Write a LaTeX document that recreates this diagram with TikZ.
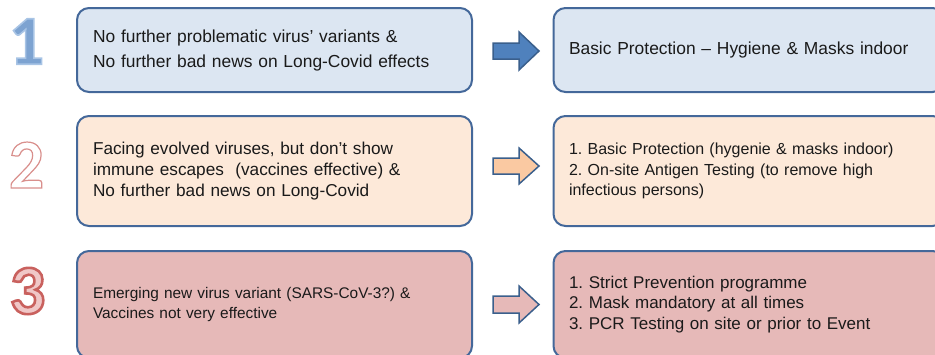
\documentclass[tikz,border=0pt]{standalone}
\usepackage{fontspec}
\setmainfont{Liberation Sans}
\newfontfamily\numfont{Carlito}
\usetikzlibrary{calc}
\frenchspacing
\definecolor{bord}{HTML}{44689A}
\definecolor{fillA}{HTML}{DCE6F2}
\definecolor{fillB}{HTML}{FDE9D9}
\definecolor{fillC}{HTML}{E6B9B8}
\definecolor{arrA}{HTML}{4F81BD}
\definecolor{arrB}{HTML}{FAC9A2}
\definecolor{arrC}{HTML}{E6B9B8}
\definecolor{arrBord}{HTML}{3A5F8C}
\definecolor{numAfill}{HTML}{7DA4D2}
\definecolor{txt}{HTML}{1A1A1A}
% outlined digit: #1 = PDF operators (fill, stroke colour, width), #2 = text
\newcommand\outlinedigit[2]{\special{pdf:literal direct 2 Tr #1}#2\special{pdf:literal direct 0 Tr}}
\begin{document}
\frenchspacing
\begin{tikzpicture}[x=1pt,y=-1pt,
  box/.style={draw=bord, line width=2pt, rounded corners=12pt, inner xsep=16pt, inner ysep=0pt,
    align=left, text=txt, font=\frenchspacing\fontsize{17.4}{20.5}\selectfont},
  leftbox/.style={box, text width=363pt},
  rightbox/.style={box, text width=360pt, inner xsep=15.5pt},
  blockarrow/.style={draw=arrBord, line width=1.5pt, line join=miter},
  digit/.style={inner sep=0pt, font=\numfont\bfseries\fontsize{70}{70}\selectfont}]
\useasboundingbox (0,0) rectangle (935,354);
\clip (0,0) rectangle (935,354);

% boxes
\node[leftbox, fill=fillA, minimum height=84pt, font=\frenchspacing\fontsize{17.4}{25}\selectfont] (L1) at (274.5,50)
  {No further problematic virus' variants \&\\No further bad news on Long-Covid effects};
\node[rightbox, fill=fillA, minimum height=84pt] (R1) at (749,50)
  {Basic Protection -- Hygiene \& Masks indoor};
\node[leftbox, fill=fillB, minimum height=110pt, font=\frenchspacing\fontsize{17.2}{21}\selectfont] (L2) at (274.5,171)
  {Facing evolved viruses, but don't show\\immune escapes\ \ (vaccines effective) \&\\No further bad news on Long-Covid};
\node[rightbox, fill=fillB, minimum height=110pt, font=\frenchspacing\fontsize{16}{20.5}\selectfont] (R2) at (749,171)
  {1. Basic Protection (hygenie \& masks indoor)\\2. On-site Antigen Testing (to remove high\\infectious persons)};
\node[leftbox, fill=fillC, minimum height=107pt, font=\frenchspacing\fontsize{15.4}{20}\selectfont] (L3) at (274.5,304.5)
  {Emerging new virus variant (SARS-CoV-3?) \&\\Vaccines not very effective};
\node[rightbox, fill=fillC, minimum height=107pt, font=\frenchspacing\fontsize{17}{20.7}\selectfont] (R3) at (749,304.5)
  {1. Strict Prevention programme\\2. Mask mandatory at all times\\3. PCR Testing on site or prior to Event};

% block arrows
\coordinate (t1) at (493,51);
\coordinate (t2) at (493,166);
\coordinate (t3) at (493,304.5);
\draw[blockarrow, fill=arrA] (t1) ++(0,-8) -- ++(26,0) -- ++(0,-11) -- ++(20,19) -- ++(-20,19) -- ++(0,-11) -- ++(-26,0) -- cycle;
\draw[blockarrow, fill=arrB] (t2) ++(0,-8) -- ++(26,0) -- ++(0,-10) -- ++(20,18) -- ++(-20,18) -- ++(0,-10) -- ++(-26,0) -- cycle;
\draw[blockarrow, fill=arrC] (t3) ++(0,-8.5) -- ++(26,0) -- ++(0,-10) -- ++(20,18.5) -- ++(-20,18.5) -- ++(0,-10) -- ++(-26,0) -- cycle;

% big numbers (filled and stroked text)
\node[digit, text=numAfill] (N1) at (26.5,41.5)
  {\outlinedigit{0.49 0.64 0.82 rg 0.66 0.77 0.90 RG 1.6 w}{1}};
\node[digit] (N2) at (26.5,165)
  {\outlinedigit{1 1 1 rg 0.85 0.56 0.55 RG 1.2 w}{2}};
\node[digit] (N3) at (27.5,291)
  {\outlinedigit{0.94 0.78 0.78 rg 0.79 0.38 0.37 RG 2.6 w}{3}};
\end{tikzpicture}
\end{document}
